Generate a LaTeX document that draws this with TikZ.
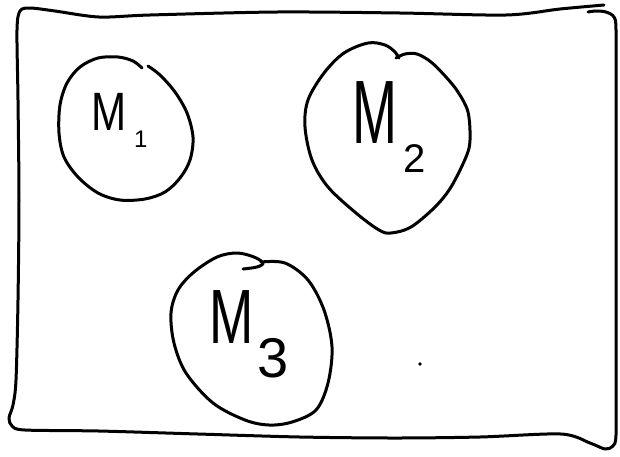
\documentclass[tikz,border=0pt]{standalone}
\usepackage{fontspec}
\usepackage{graphicx}
\newfontfamily\handfont{Liberation Sans}
\begin{document}
\begin{tikzpicture}[x=1pt,y=-1pt,
  ink/.style={line width=3pt, line cap=round, line join=round, black},
  lbl/.style={inner sep=0pt, outer sep=0pt, anchor=base west, font=\handfont}]
\useasboundingbox (0,0) rectangle (620,456);
\fill[white] (0,0) rectangle (620,456);
% frame
\draw[ink] plot[smooth, tension=0.5] coordinates {
  (604,5) (560,9) (506,15) (400,13) (277,12) (150,15) (99,17) (55,11) (30,8)
  (20,11) (17,30) (18,100) (19,200) (18,300) (16,380) (13,405) (9,418) (12,426)
  (25,430) (99,431) (198,434) (300,437) (395,438) (480,437) (561,434) (590,443)
  (605,449) (613,446) (616,435) (616,380) (616,300) (616,200) (616,100) (616,30)
  (614,17) (606,12) (596,11) (588,12)};
% circle M1
\draw[ink] plot[smooth, tension=0.55] coordinates {
  (148,66) (160,75) (175,92) (187,113) (193,137) (190,160) (180,178) (165,192)
  (145,199) (120,200) (98,193) (78,177) (64,157) (59,133) (60,105) (67,83)
  (80,67) (98,58) (118,57) (133,61) (142,68)};
% circle M2
\draw[ink] plot[smooth, tension=0.55] coordinates {
  (396,58) (405,54) (417,54) (431,62) (446,77) (458,92) (468,112) (470,140)
  (466,157) (451,187) (435,207) (411,227) (391,233) (379,230) (356,213)
  (328,187) (312,160) (305,127) (308,100) (324,73) (344,53) (368,43) (385,45)
  (395,52) (399,58)};
% circle M3
\draw[ink] plot[smooth, tension=0.55] coordinates {
  (261,262) (285,263) (308,280) (324,310) (332,347) (328,383) (316,410)
  (292,422) (269,425) (245,420) (213,403) (186,373) (174,343) (171,313)
  (178,290) (194,272) (217,257) (237,253) (254,257) (263,263) (257,267) (243,269)};
% labels
\node[lbl] (m1) at (91,130) {\fontsize{54}{54}\selectfont\scalebox{0.78}[1]{M}\hspace{8pt}\raisebox{-17pt}{\fontsize{24}{24}\selectfont 1}};
\node[lbl] (m2) at (352,143) {\fontsize{90}{90}\selectfont\scalebox{0.6}[1]{M}\hspace{7pt}\raisebox{-29pt}{\fontsize{40}{40}\selectfont 2}};
\node[lbl] (m3) at (209,343) {\fontsize{77}{77}\selectfont\scalebox{0.69}[1]{M}\hspace{4pt}\raisebox{-34pt}{\fontsize{56}{56}\selectfont 3}};
% dot
\fill (420,364) circle (1.8pt);
\end{tikzpicture}
\end{document}
